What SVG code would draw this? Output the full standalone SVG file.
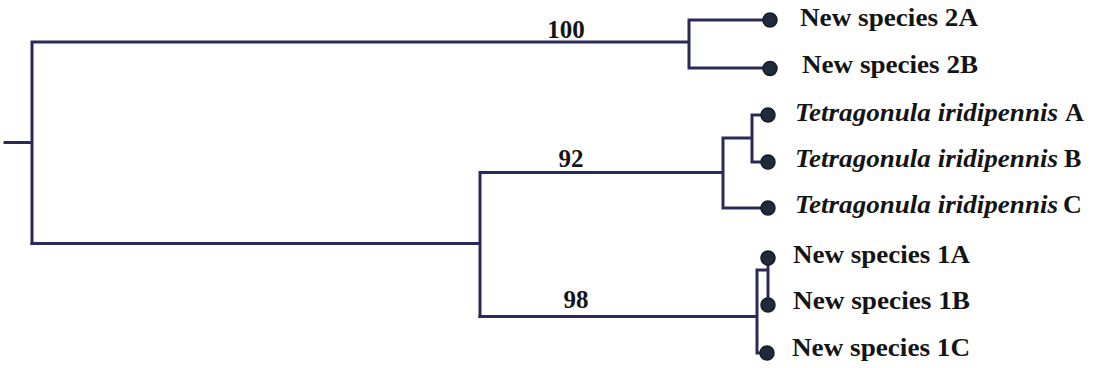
<svg xmlns="http://www.w3.org/2000/svg" width="1094" height="368" viewBox="0 0 1094 368">
<style>
.br{fill:none;stroke:#2a2a58;stroke-width:3;stroke-linecap:square;stroke-linejoin:miter}
.tip{fill:#1f2a3a;stroke:#151c28;stroke-width:1.5}
.lab{font-family:"Liberation Serif","Times New Roman",serif;font-weight:bold;font-size:26px;fill:#141414}
.it{font-style:italic}
.sup{font-family:"Liberation Serif","Times New Roman",serif;font-weight:bold;font-size:25px;fill:#141414;text-anchor:middle}
</style>
<rect width="1094" height="368" fill="#ffffff"/>
<g id="connectors">
<path class="br" d="M5,142.5 H32 M32,42 V243.5 M32,42 H689 M689,20 V68 M689,20 H765 M689,68 H765"/>
<path class="br" d="M32,243.5 H480 M480,172.5 V316.5 M480,172.5 H723 M723,138 V208 M723,138 H752 M752,115 V162 M752,115 H763 M752,162 H763 M723,208 H763"/>
<path class="br" d="M480,316.5 H757 M757,270 V353 M757,270 H768 M768,258 V305 M757,353 H763"/>
</g>
<g id="support-labels">
<text class="sup" x="566" y="38">100</text>
<text class="sup" x="571" y="167">92</text>
<text class="sup" x="576" y="308">98</text>
</g>
<g id="leaf-2A"><circle class="tip" cx="770" cy="20" r="7"/><text class="lab" x="800" y="25.5" textLength="178" lengthAdjust="spacingAndGlyphs">New species 2A</text></g>
<g id="leaf-2B"><circle class="tip" cx="770" cy="68.5" r="7"/><text class="lab" x="802" y="72.5" textLength="176" lengthAdjust="spacingAndGlyphs">New species 2B</text></g>
<g id="leaf-TA"><circle class="tip" cx="768" cy="115" r="7"/><text class="lab" x="795" y="121"><tspan class="it" textLength="263" lengthAdjust="spacingAndGlyphs">Tetragonula iridipennis</tspan><tspan x="1065">A</tspan></text></g>
<g id="leaf-TB"><circle class="tip" cx="768" cy="162" r="7"/><text class="lab" x="795" y="167"><tspan class="it" textLength="263" lengthAdjust="spacingAndGlyphs">Tetragonula iridipennis</tspan><tspan x="1064">B</tspan></text></g>
<g id="leaf-TC"><circle class="tip" cx="768" cy="208" r="7"/><text class="lab" x="795" y="213"><tspan class="it" textLength="263" lengthAdjust="spacingAndGlyphs">Tetragonula iridipennis</tspan><tspan x="1063">C</tspan></text></g>
<g id="leaf-1A"><circle class="tip" cx="768" cy="258" r="7"/><text class="lab" x="793" y="263" textLength="177" lengthAdjust="spacingAndGlyphs">New species 1A</text></g>
<g id="leaf-1B"><circle class="tip" cx="768" cy="305" r="7"/><text class="lab" x="793" y="309" textLength="177" lengthAdjust="spacingAndGlyphs">New species 1B</text></g>
<g id="leaf-1C"><circle class="tip" cx="767" cy="353" r="7"/><text class="lab" x="792" y="356" textLength="178" lengthAdjust="spacingAndGlyphs">New species 1C</text></g>
</svg>
